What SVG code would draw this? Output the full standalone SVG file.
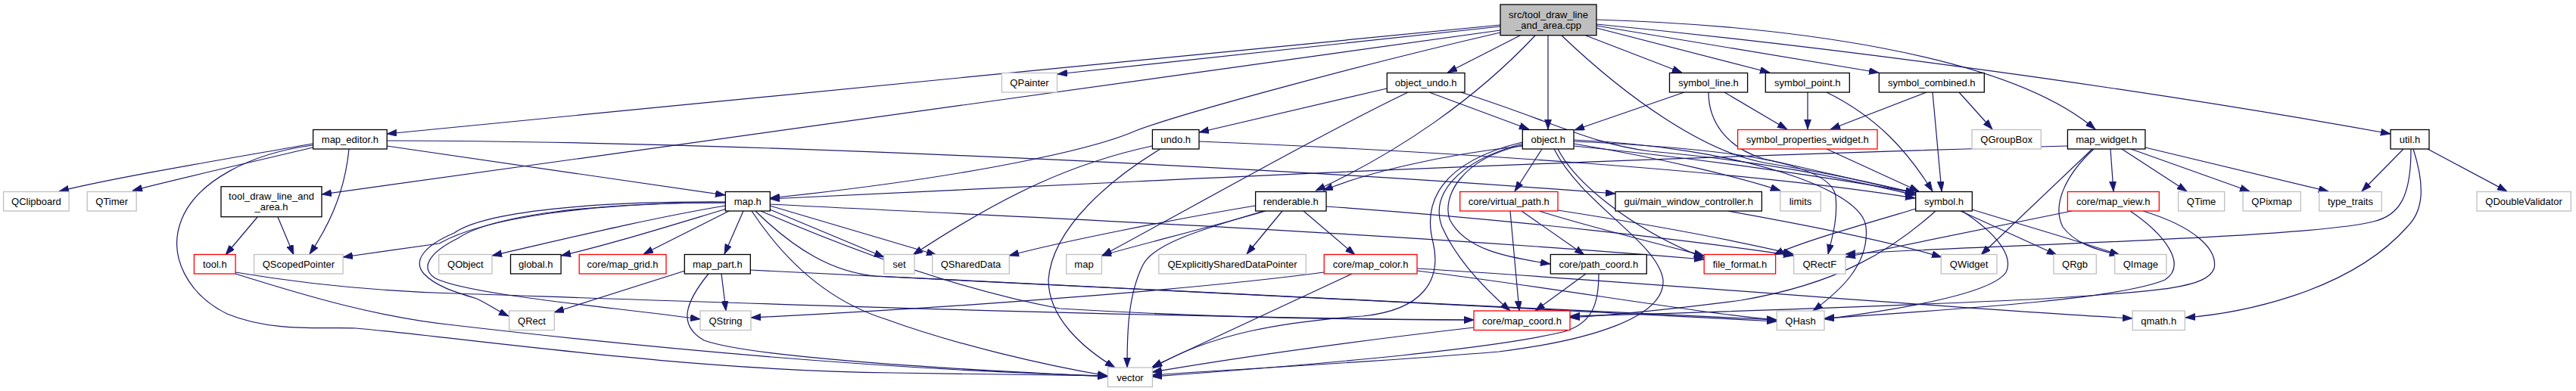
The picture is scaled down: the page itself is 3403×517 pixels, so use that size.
<svg xmlns="http://www.w3.org/2000/svg" width="3403" height="517" viewBox="0 0 3403 517">
<style>
.n rect{fill:#fff;stroke-width:1.3}
.b rect{stroke:#000}
.g rect{stroke:#bfbfbf}
.r rect{stroke:#ff0000}
.root rect{fill:#bfbfbf;stroke:#000}
.n text{font-family:"Liberation Sans",Arial,sans-serif;font-size:13px;text-anchor:middle;fill:#000}
#edges path{fill:none;stroke:#191970;stroke-width:1.2;marker-end:url(#ah)}
</style>
<defs>
<marker id="ah" markerUnits="userSpaceOnUse" markerWidth="14" markerHeight="10" refX="13" refY="4.5" orient="auto">
<path d="M0,0 L13,4.5 L0,9 z" fill="#191970" stroke="#191970" stroke-width="0.8"/>
</marker>
</defs>
<rect width="3403" height="517" fill="#fff"/>
<g id="edges">
<path d="M1982,33 L511,177"/>
<path d="M1982,35 L1397,98"/>
<path d="M1982,40 L425,257"/>
<path d="M1982,43 C1800,85 1560,150 1500,173 C1450,195 1300,232 1017,262"/>
<path d="M2008,47 L1912,96"/>
<path d="M2028,47 C1950,130 1850,200 1738,252"/>
<path d="M2045,47 L2045,171"/>
<path d="M2063,47 C2150,130 2250,200 2330,215 C2420,230 2490,245 2531,256"/>
<path d="M2095,47 L2222,96"/>
<path d="M2109,37 L2338,96"/>
<path d="M2109,34 L2482,96"/>
<path d="M2109,26 C2350,33 2650,70 2768,171"/>
<path d="M2109,32 C2500,70 2900,130 3158,177"/>
<path d="M413,190 C300,210 150,235 78,253"/>
<path d="M413,195 C330,215 240,235 175,252"/>
<path d="M461,197 C455,260 430,305 409,336"/>
<path d="M511,193 L958,258"/>
<path d="M511,186 C900,186 1600,215 2134,256"/>
<path d="M413,192 C330,203 260,240 240,290 C220,340 250,390 300,415 C360,440 430,432 470,434 C600,445 900,490 1180,493 L1463,497"/>
<path d="M340,287 L298,337"/>
<path d="M367,287 L388,337"/>
<path d="M311,360 C400,375 500,385 600,388 C900,398 1500,420 1947,423"/>
<path d="M311,362 C400,390 500,420 600,430 C900,465 1200,490 1463,497"/>
<path d="M958,272 C850,290 730,320 650,338"/>
<path d="M960,276 C880,300 800,325 741,338"/>
<path d="M963,279 L850,336"/>
<path d="M982,279 L957,336"/>
<path d="M1017,277 L1168,340"/>
<path d="M1017,272 L1237,337"/>
<path d="M958,268 C780,268 640,288 580,322 L453,340"/>
<path d="M958,267 C780,266 640,280 600,308 C560,325 545,345 560,362 C575,378 600,386 630,395 C645,402 655,410 672,418"/>
<path d="M958,268 C780,268 650,285 605,315 C565,335 555,355 575,368 C620,390 800,405 925,422"/>
<path d="M993,279 C1040,350 1100,400 1170,422 C1260,455 1380,483 1463,497"/>
<path d="M998,279 C1050,330 1100,360 1157,365 C1400,380 2000,405 2347,423"/>
<path d="M1005,279 C1100,320 1250,380 1400,408 C1600,420 1800,423 1947,423"/>
<path d="M1017,270 C1300,285 1800,305 2251,343"/>
<path d="M905,358 L732,413"/>
<path d="M953,362 L959,411"/>
<path d="M936,362 C905,400 895,430 930,450 C1000,475 1300,490 1463,498"/>
<path d="M991,357 C1200,370 1900,400 2347,425"/>
<path d="M1522,193 C1420,215 1330,255 1206,337"/>
<path d="M1533,197 C1470,235 1390,300 1385,370 C1385,420 1430,460 1473,486"/>
<path d="M1584,187 C1900,200 2300,225 2530,262"/>
<path d="M1832,117 L1584,175"/>
<path d="M1860,122 C1750,175 1600,260 1456,338"/>
<path d="M1888,122 L2020,171"/>
<path d="M1930,122 C2050,160 2100,190 2180,200 C2350,215 2450,240 2530,258"/>
<path d="M2011,193 C1900,205 1800,230 1748,252"/>
<path d="M2037,197 L2001,253"/>
<path d="M2011,190 C1920,215 1890,260 1905,300 C1925,345 1965,385 1995,411"/>
<path d="M2011,192 C1930,210 1905,260 1915,290 C1935,330 1990,340 2048,349"/>
<path d="M2011,188 C1900,215 1880,270 1893,320 C1905,370 1880,410 1800,418 C1700,425 1600,440 1522,487"/>
<path d="M2058,197 C2080,240 2150,300 2251,341"/>
<path d="M2079,190 C2200,210 2300,235 2352,252"/>
<path d="M2079,193 C2250,210 2420,235 2530,255"/>
<path d="M2079,187 C2250,195 2420,210 2425,260 C2428,290 2420,315 2415,336"/>
<path d="M2079,185 C2300,195 2460,250 2465,300 C2470,350 2430,385 2395,411"/>
<path d="M2053,197 C2090,270 2190,320 2197,370 C2200,420 2100,450 1980,465 C1800,480 1600,490 1522,496"/>
<path d="M1749,360 C1600,380 1300,405 992,420"/>
<path d="M1786,362 L1522,485"/>
<path d="M1872,355 C2200,375 2600,410 2817,421"/>
<path d="M1872,358 C2050,380 2250,415 2347,423"/>
<path d="M1658,272 C1550,290 1400,320 1333,338"/>
<path d="M1672,279 C1600,300 1500,325 1455,338"/>
<path d="M1669,279 C1600,300 1525,320 1510,350 C1490,390 1489,440 1489,486"/>
<path d="M1694,279 L1647,336"/>
<path d="M1722,279 L1790,337"/>
<path d="M1752,273 C2000,290 2250,320 2369,338"/>
<path d="M1995,279 L2007,411"/>
<path d="M2010,279 L2093,337"/>
<path d="M2033,279 C2100,300 2200,325 2251,338"/>
<path d="M2058,278 C2200,300 2300,320 2369,336"/>
<path d="M2095,362 L2028,411"/>
<path d="M2112,362 C2112,400 2105,430 2060,440 C1950,465 1700,485 1522,498"/>
<path d="M1947,433 C1800,450 1650,470 1522,492"/>
<path d="M2283,279 C2400,300 2500,320 2565,340"/>
<path d="M2225,122 L2080,172"/>
<path d="M2278,122 L2361,171"/>
<path d="M2257,122 C2257,160 2280,195 2330,210 C2420,230 2480,245 2531,255"/>
<path d="M2388,122 L2388,171"/>
<path d="M2413,122 C2480,155 2520,200 2553,253"/>
<path d="M2545,122 L2418,171"/>
<path d="M2553,122 L2565,253"/>
<path d="M2588,122 L2632,171"/>
<path d="M2413,197 L2535,253"/>
<path d="M2531,276 C2450,300 2380,320 2343,337"/>
<path d="M2557,279 C2500,330 2430,375 2300,397 C2200,410 2120,417 2074,420"/>
<path d="M2590,279 L2717,337"/>
<path d="M2605,277 C2680,300 2750,320 2800,337"/>
<path d="M2592,279 C2640,310 2660,340 2650,360 C2630,390 2500,410 2410,422"/>
<path d="M2731,193 C2300,205 1800,225 1500,240 C1300,250 1100,258 1017,263"/>
<path d="M2788,197 L2792,253"/>
<path d="M2803,197 L2889,253"/>
<path d="M2815,197 L2972,253"/>
<path d="M2834,195 L3076,253"/>
<path d="M2764,197 L2617,337"/>
<path d="M2766,197 C2730,230 2710,270 2725,300 C2740,320 2765,330 2800,337"/>
<path d="M2737,279 L2438,340"/>
<path d="M2814,279 C2860,310 2890,350 2860,370 C2800,395 2600,408 2410,421"/>
<path d="M2831,279 C2900,300 2930,330 2925,355 C2915,380 2860,385 2700,395 C2500,405 2200,415 2074,418"/>
<path d="M3175,197 L3120,253"/>
<path d="M3207,197 L3312,253"/>
<path d="M3185,197 C3185,260 3170,285 3135,293 C3050,315 2600,325 2438,336"/>
<path d="M3188,197 C3205,250 3200,280 3180,300 C3100,390 2950,415 2887,420"/>
</g>
<g id="n_root" class="n root"><rect x="1982" y="6" width="127" height="40.7"/><text x="2045.5" y="23.5">src/tool_draw_line</text><text x="2045.5" y="37.5">_and_area.cpp</text></g>
<g id="n_map_editor" class="n b"><rect x="413.6" y="171.5" width="97.6" height="25.5"/><text x="462.4" y="189">map_editor.h</text></g>
<g id="n_QPainter" class="n g"><rect x="1323.4" y="96.5" width="73.1" height="25.5"/><text x="1360" y="114">QPainter</text></g>
<g id="n_tool_draw" class="n b"><rect x="292" y="246.7" width="133" height="40"/><text x="358.5" y="263.5">tool_draw_line_and</text><text x="358.5" y="277.5">_area.h</text></g>
<g id="n_map" class="n b"><rect x="958.3" y="253.5" width="59" height="25.5"/><text x="987.8" y="271">map.h</text></g>
<g id="n_object_undo" class="n b"><rect x="1832.3" y="96.5" width="102.7" height="25.5"/><text x="1883.7" y="114">object_undo.h</text></g>
<g id="n_renderable" class="n b"><rect x="1658.6" y="253.5" width="93.4" height="25.5"/><text x="1705.3" y="271">renderable.h</text></g>
<g id="n_object" class="n b"><rect x="2011.3" y="171.5" width="67.7" height="25.5"/><text x="2045.2" y="189">object.h</text></g>
<g id="n_symbol_line" class="n b"><rect x="2205.5" y="96.5" width="103.1" height="25.5"/><text x="2257" y="114">symbol_line.h</text></g>
<g id="n_symbol_point" class="n b"><rect x="2332.3" y="96.5" width="111" height="25.5"/><text x="2387.8" y="114">symbol_point.h</text></g>
<g id="n_symbol_combined" class="n b"><rect x="2482.3" y="96.5" width="139" height="25.5"/><text x="2551.8" y="114">symbol_combined.h</text></g>
<g id="n_symbol" class="n b"><rect x="2530.7" y="253.5" width="74.6" height="25.5"/><text x="2568" y="271">symbol.h</text></g>
<g id="n_map_widget" class="n b"><rect x="2731.4" y="171.5" width="102.5" height="25.5"/><text x="2782.7" y="189">map_widget.h</text></g>
<g id="n_util" class="n b"><rect x="3158" y="171.5" width="51" height="25.5"/><text x="3183.5" y="189">util.h</text></g>
<g id="n_QClipboard" class="n g"><rect x="4.6" y="253.5" width="86.5" height="25.5"/><text x="47.9" y="271">QClipboard</text></g>
<g id="n_QTimer" class="n g"><rect x="115.2" y="253.5" width="65" height="25.5"/><text x="147.7" y="271">QTimer</text></g>
<g id="n_tool" class="n r"><rect x="256.4" y="336.5" width="54.7" height="25.5"/><text x="283.8" y="354">tool.h</text></g>
<g id="n_QScopedPointer" class="n g"><rect x="335.6" y="336.5" width="117.5" height="25.5"/><text x="394.4" y="354">QScopedPointer</text></g>
<g id="n_QObject" class="n g"><rect x="579.7" y="336.5" width="70.3" height="25.5"/><text x="614.9" y="354">QObject</text></g>
<g id="n_global" class="n b"><rect x="674.5" y="336.5" width="66.6" height="25.5"/><text x="707.8" y="354">global.h</text></g>
<g id="n_map_grid" class="n r"><rect x="765.2" y="336.5" width="114.8" height="25.5"/><text x="822.6" y="354">core/map_grid.h</text></g>
<g id="n_map_part" class="n b"><rect x="904.3" y="336.5" width="87" height="25.5"/><text x="947.8" y="354">map_part.h</text></g>
<g id="n_QRect" class="n g"><rect x="672.6" y="411" width="59.7" height="25.5"/><text x="702.5" y="428.5">QRect</text></g>
<g id="n_QString" class="n g"><rect x="925" y="411" width="67" height="25.5"/><text x="958.5" y="428.5">QString</text></g>
<g id="n_vector" class="n g"><rect x="1463.5" y="486" width="58.9" height="25.5"/><text x="1493" y="503.5">vector</text></g>
<g id="n_set" class="n g"><rect x="1167.7" y="336.5" width="40.3" height="25.5"/><text x="1187.9" y="354">set</text></g>
<g id="n_QSharedData" class="n g"><rect x="1231.7" y="336.5" width="101.6" height="25.5"/><text x="1282.5" y="354">QSharedData</text></g>
<g id="n_stdmap" class="n g"><rect x="1408.7" y="336.5" width="46.7" height="25.5"/><text x="1432" y="354">map</text></g>
<g id="n_QESDP" class="n g"><rect x="1530.8" y="336.5" width="194.4" height="25.5"/><text x="1628" y="354">QExplicitlySharedDataPointer</text></g>
<g id="n_map_color" class="n r"><rect x="1749.2" y="336.5" width="122.8" height="25.5"/><text x="1810.6" y="354">core/map_color.h</text></g>
<g id="n_undo" class="n b"><rect x="1522.4" y="171.5" width="61.6" height="25.5"/><text x="1553.2" y="189">undo.h</text></g>
<g id="n_virtual_path" class="n r"><rect x="1928.7" y="253.5" width="129.3" height="25.5"/><text x="1993.3" y="271">core/virtual_path.h</text></g>
<g id="n_mwc" class="n b"><rect x="2134" y="253.5" width="193.4" height="25.5"/><text x="2230.7" y="271">gui/main_window_controller.h</text></g>
<g id="n_path_coord" class="n b"><rect x="2048.3" y="336.5" width="127" height="25.5"/><text x="2111.8" y="354">core/path_coord.h</text></g>
<g id="n_file_format" class="n r"><rect x="2251.2" y="336.5" width="94.4" height="25.5"/><text x="2298.4" y="354">file_format.h</text></g>
<g id="n_map_coord" class="n r"><rect x="1947" y="411" width="127" height="25.5"/><text x="2010.5" y="428.5">core/map_coord.h</text></g>
<g id="n_spw" class="n r"><rect x="2295.6" y="171.5" width="184.4" height="25.5"/><text x="2387.8" y="189">symbol_properties_widget.h</text></g>
<g id="n_QGroupBox" class="n g"><rect x="2605" y="171.5" width="91.2" height="25.5"/><text x="2650.6" y="189">QGroupBox</text></g>
<g id="n_limits" class="n g"><rect x="2351.8" y="253.5" width="53.5" height="25.5"/><text x="2378.5" y="271">limits</text></g>
<g id="n_map_view" class="n r"><rect x="2731.4" y="253.5" width="120.9" height="25.5"/><text x="2791.8" y="271">core/map_view.h</text></g>
<g id="n_QTime" class="n g"><rect x="2877.6" y="253.5" width="61.1" height="25.5"/><text x="2908.1" y="271">QTime</text></g>
<g id="n_QPixmap" class="n g"><rect x="2963" y="253.5" width="76.3" height="25.5"/><text x="3001.1" y="271">QPixmap</text></g>
<g id="n_type_traits" class="n g"><rect x="3063.7" y="253.5" width="82.6" height="25.5"/><text x="3105" y="271">type_traits</text></g>
<g id="n_QDoubleValidator" class="n g"><rect x="3272" y="253.5" width="124.3" height="25.5"/><text x="3334.1" y="271">QDoubleValidator</text></g>
<g id="n_QRectF" class="n g"><rect x="2369.7" y="336.5" width="68.3" height="25.5"/><text x="2403.8" y="354">QRectF</text></g>
<g id="n_QWidget" class="n g"><rect x="2564.3" y="336.5" width="73.7" height="25.5"/><text x="2601.1" y="354">QWidget</text></g>
<g id="n_QRgb" class="n g"><rect x="2713" y="336.5" width="56.3" height="25.5"/><text x="2741.1" y="354">QRgb</text></g>
<g id="n_QImage" class="n g"><rect x="2793.7" y="336.5" width="68.2" height="25.5"/><text x="2827.8" y="354">QImage</text></g>
<g id="n_QHash" class="n g"><rect x="2347.3" y="411" width="62.7" height="25.5"/><text x="2378.6" y="428.5">QHash</text></g>
<g id="n_qmath" class="n g"><rect x="2817.1" y="411" width="69.2" height="25.5"/><text x="2851.7" y="428.5">qmath.h</text></g>
</svg>
